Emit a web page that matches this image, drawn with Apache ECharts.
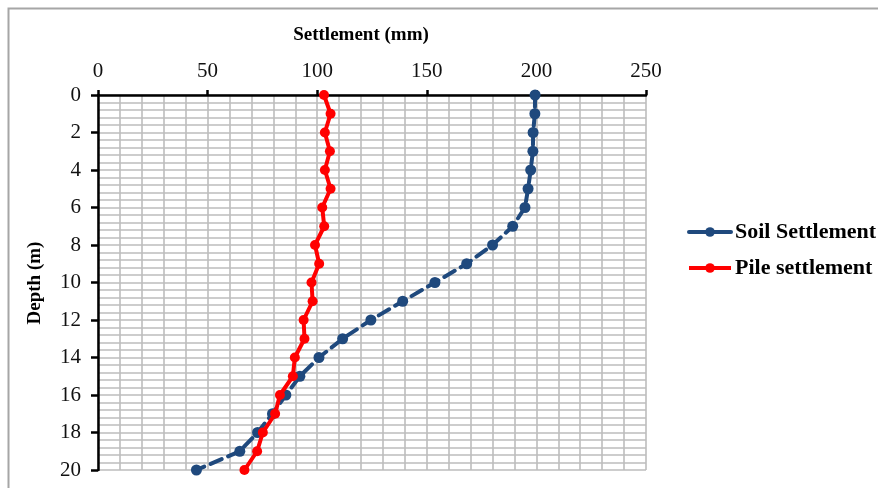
<!DOCTYPE html>
<html>
<head>
<meta charset="utf-8">
<script src="https://cdn.jsdelivr.net/npm/echarts@6/dist/echarts.min.js"></script>
<style>
  html, body { margin: 0; padding: 0; background: #fff; }
  #chart { width: 878px; height: 488px; }
</style>
</head>
<body>
<div id="chart"></div>
<script>
// Depth below surface (m)
const depths = [0, 1, 2, 3, 4, 5, 6, 7, 8, 9, 10, 11, 12, 13, 14, 15, 16, 17, 18, 19, 20];

// Settlement profiles (mm)
const soilSettlement = [199.4, 199.3, 198.5, 198.4, 197.4, 196.2, 194.8, 189.2, 180.0, 168.2,
                        153.7, 139.0, 124.5, 111.6, 100.8, 92.1, 85.7, 79.6, 72.8, 64.7, 44.9];
const pileSettlement = [103.1, 106.1, 103.5, 105.8, 103.5, 106.1, 102.3, 103.2, 99.0, 100.9,
                        97.4, 97.9, 93.8, 94.2, 89.8, 88.9, 83.0, 80.8, 75.2, 72.6, 66.8];

const seriesNames = ['Soil Settlement', 'Pile settlement'];
const xTitle = 'Settlement (mm)';
const yTitle = 'Depth (m)';

const serif = '"Liberation Serif", "Times New Roman", serif';
const gridColor = '#bdbdbd';
const soilColor = '#1f497d';
const pileColor = '#ff0000';

const pairs = (xs) => xs.map((v, i) => [v, depths[i]]);

const chart = echarts.init(document.getElementById('chart'));
chart.setOption({
  animation: false,
  backgroundColor: '#ffffff',
  grid: { left: 98, top: 95, width: 548, height: 375, containLabel: false },
  xAxis: {
    type: 'value',
    position: 'top',
    min: 0, max: 250, interval: 50,
    axisLine: { show: true, onZero: false, lineStyle: { color: '#000', width: 2.5 } },
    axisTick: { show: true, length: 5, lineStyle: { color: '#000', width: 2.5 } },
    axisLabel: { fontFamily: serif, fontSize: 21, color: '#111', margin: 13 },
    splitLine: { show: true, lineStyle: { color: gridColor, width: 1.6 } },
    minorTick: { show: false, splitNumber: 5 },
    minorSplitLine: { show: true, lineStyle: { color: gridColor, width: 1.6 } }
  },
  yAxis: {
    type: 'value',
    inverse: true,
    min: 0, max: 20, interval: 2,
    axisLine: { show: true, onZero: false, lineStyle: { color: '#000', width: 2.5 } },
    axisTick: { show: true, length: 7, lineStyle: { color: '#000', width: 2.5 } },
    axisLabel: { fontFamily: serif, fontSize: 21, color: '#111', margin: 17 },
    splitLine: { show: true, lineStyle: { color: gridColor, width: 1.6 } },
    minorTick: { show: false, splitNumber: 5 },
    minorSplitLine: { show: true, lineStyle: { color: gridColor, width: 1.6 } }
  },
  legend: {
    orient: 'vertical',
    left: 687, top: 221, padding: 0,
    itemWidth: 42, itemHeight: 12, itemGap: 14,
    textStyle: { fontFamily: serif, fontSize: 22, fontWeight: 'bold', color: '#000', padding: [0, 0, 0, -1] },
    data: [
      { name: seriesNames[0], lineStyle: { width: 4, type: 'solid', color: soilColor } },
      { name: seriesNames[1], lineStyle: { width: 4, type: 'solid', color: pileColor } }
    ]
  },
  graphic: [
    {
      type: 'rect', silent: true, z: -1,
      shape: { x: 8.5, y: 8.5, width: 1000, height: 1000 },
      style: { fill: 'none', stroke: '#a6a6a6', lineWidth: 2 }
    },
    {
      type: 'text', x: 361, y: 35,
      style: { text: xTitle, fontFamily: serif, fontSize: 19, fontWeight: 'bold', fill: '#000',
               textAlign: 'center', textVerticalAlign: 'middle' }
    },
    {
      type: 'text', x: 35, y: 283, rotation: Math.PI / 2,
      style: { text: yTitle, fontFamily: serif, fontSize: 19, fontWeight: 'bold', fill: '#000',
               textAlign: 'center', textVerticalAlign: 'middle' }
    }
  ],
  series: [
    {
      name: seriesNames[0],
      type: 'line',
      data: pairs(soilSettlement),
      symbol: 'circle', symbolSize: 11,
      itemStyle: { color: soilColor },
      lineStyle: { color: soilColor, width: 4, type: [12, 7], cap: 'round' },
      z: 3
    },
    {
      name: seriesNames[1],
      type: 'line',
      data: pairs(pileSettlement),
      symbol: 'circle', symbolSize: 10,
      itemStyle: { color: pileColor },
      lineStyle: { color: pileColor, width: 4 },
      z: 4
    }
  ]
});
</script>
</body>
</html>
